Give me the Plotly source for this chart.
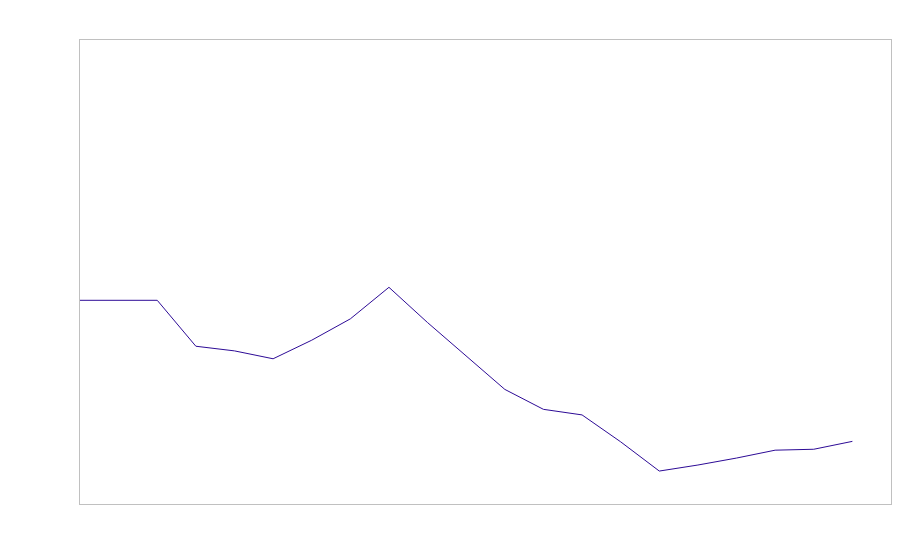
import plotly.graph_objects as go

x_index = list(range(21))
values = [43.9, 43.9, 43.9, 34.0, 33.0, 31.3, 35.3, 39.9, 46.7, 39.1, 31.9,
          24.7, 20.4, 19.2, 13.4, 7.1, 8.4, 9.9, 11.6, 11.8, 13.5]

fig = go.Figure()
fig.add_trace(go.Scatter(x=x_index, y=values, mode="lines",
                         line=dict(color="#2d0b96", width=1), showlegend=False,
                         hoverinfo="skip"))

axis_style = dict(showgrid=False, zeroline=False, showticklabels=False, ticks="",
                  showline=True, mirror=True, linecolor="#c0c0c0", linewidth=1)
fig.update_layout(
    width=900, height=560,
    margin=dict(l=72, r=17, t=32, b=64),
    paper_bgcolor="white", plot_bgcolor="white",
    xaxis=dict(range=[0, 21], **axis_style),
    yaxis=dict(range=[0, 100], **axis_style),
)
fig.write_html("out.html")
